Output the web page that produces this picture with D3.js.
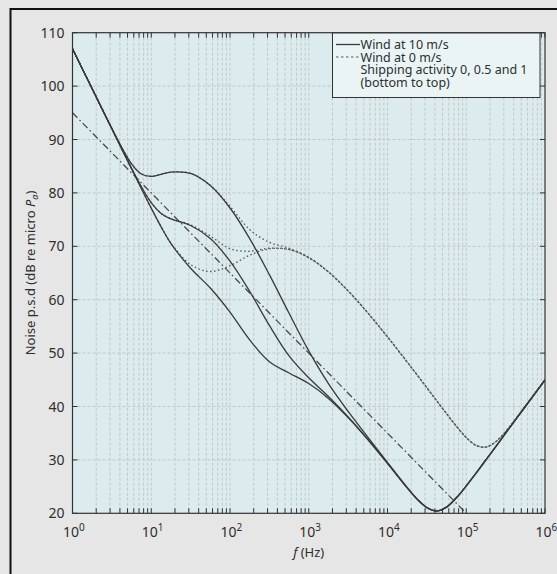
<!DOCTYPE html>
<html>
<head>
<meta charset="utf-8">
<script src="https://cdn.jsdelivr.net/npm/d3@7/dist/d3.min.js"></script>
<style>
  body { margin: 0; background: #e6e6e6; }
  text { font-family: "Noto Sans", sans-serif; fill: #2e2e2e; }
</style>
</head>
<body>
<script>
// log10 of frequency (Hz) for every sample
var logFreq = [0, 0.25, 0.5, 0.75, 0.875, 1, 1.125, 1.25, 1.5, 1.75, 2, 2.25, 2.5, 2.75, 3, 3.25,
  3.5, 3.75, 4, 4.25, 4.375, 4.5, 4.625, 4.75, 4.875, 5, 5.125, 5.25, 5.375, 5.5, 5.75, 6];

// solid curves (legend: wind at 10 m/s), shipping 0, 0.5, 1
var solidShip0 = [107.0, 99.5, 92.0, 84.51, 80.79, 77.13, 73.65, 70.52, 65.89, 62.19, 57.68, 52.47, 48.37, 46.27, 44.30, 41.52,
  37.94, 33.81, 29.34, 24.76, 22.65, 21.06, 20.43, 21.16, 22.90, 25.13, 27.54, 30.01, 32.50, 35.00, 40.00, 45.00];
var solidShip05 = [107.0, 99.5, 92.0, 84.61, 81.13, 78.16, 76.16, 75.13, 73.90, 71.45, 67.22, 61.55, 55.19, 49.48, 45.37, 41.86,
  38.06, 33.86, 29.36, 24.77, 22.66, 21.05, 20.44, 21.16, 22.90, 25.13, 27.54, 30.01, 32.50, 35.00, 40.00, 45.00];
var solidShip1 = [107.0, 99.5, 92.07, 85.45, 83.55, 83.10, 83.47, 83.90, 83.64, 81.37, 77.17, 71.45, 64.69, 57.45, 50.41, 44.28,
  39.08, 34.28, 29.53, 24.84, 22.70, 21.08, 20.44, 21.16, 22.90, 25.13, 27.54, 30.01, 32.50, 35.00, 40.00, 45.00];

// dotted curves (legend: wind at 0 m/s), shipping 0, 0.5, 1
var dotShip0 = [107.0, 99.5, 92.0, 84.51, 80.79, 77.14, 73.67, 70.62, 66.59, 65.28, 66.37, 68.33, 69.52, 69.39, 67.87, 65.19,
  61.65, 57.52, 53.04, 48.33, 45.93, 43.51, 41.07, 38.65, 36.31, 34.20, 32.72, 32.40, 33.41, 35.31, 40.03, 45.00];
var dotShip05 = [107.0, 99.5, 92.0, 84.61, 81.13, 78.16, 76.17, 75.16, 74.02, 71.94, 69.55, 69.07, 69.65, 69.41, 67.88, 65.19,
  61.65, 57.52, 53.04, 48.33, 45.93, 43.51, 41.07, 38.65, 36.31, 34.20, 32.72, 32.40, 33.41, 35.31, 40.03, 45.00];
var dotShip1 = [107.0, 99.5, 92.07, 85.45, 83.55, 83.10, 83.47, 83.91, 83.65, 81.42, 77.47, 73.14, 70.74, 69.65, 67.93, 65.21,
  61.66, 57.53, 53.04, 48.33, 45.93, 43.51, 41.07, 38.65, 36.31, 34.20, 32.72, 32.40, 33.41, 35.31, 40.03, 45.00];

// straight dash-dot line
var dashDotLogFreq = [0, 5];
var dashDotVals = [95, 20];

var yTicks = [20, 30, 40, 50, 60, 70, 80, 90, 100, 110];
var xDecades = [0, 1, 2, 3, 4, 5, 6];
var legendLines = ["Wind at 10 m/s", "Wind at 0 m/s", "Shipping activity 0, 0.5 and 1", "(bottom to top)"];

// ==============================================================================
var width = 557, height = 574;
var pLeft = 72.5, pRight = 545, pTop = 32.7, pBottom = 513.3;

var svg = d3.select("body").append("svg")
    .attr("width", width)
    .attr("height", height);

// outer frame
svg.append("rect")
    .attr("x", 10.5).attr("y", 9)
    .attr("width", 560).attr("height", 580)
    .attr("fill", "#e6e6e6")
    .attr("stroke", "#111")
    .attr("stroke-width", 2);

var x = d3.scaleLog().domain([1, 1e6]).range([pLeft, pRight]);
var y = d3.scaleLinear().domain([20, 110]).range([pBottom, pTop]);

svg.append("rect")
    .attr("x", pLeft).attr("y", pTop)
    .attr("width", pRight - pLeft).attr("height", pBottom - pTop)
    .attr("fill", "#dbebee");

svg.append("clipPath").attr("id", "clip")
  .append("rect")
    .attr("x", pLeft).attr("y", pTop)
    .attr("width", pRight - pLeft).attr("height", pBottom - pTop);

// minor + major frequencies
var xGrid = [];
xDecades.forEach(d => {
  if (d < 6) d3.range(1, 10).forEach(k => xGrid.push(k * Math.pow(10, d)));
  else xGrid.push(1e6);
});

var grid = svg.append("g")
    .attr("stroke", "#c6c6c6")
    .attr("stroke-width", 1)
    .attr("stroke-dasharray", "3,2");

grid.selectAll("line.gx")
    .data(xGrid.filter(f => f > 1 && f < 1e6))
  .enter().append("line")
    .attr("x1", d => x(d)).attr("x2", d => x(d))
    .attr("y1", pTop).attr("y2", pBottom);

grid.selectAll("line.gy")
    .data(yTicks.filter(v => v > 20 && v < 110))
  .enter().append("line")
    .attr("x1", pLeft).attr("x2", pRight)
    .attr("y1", d => y(d)).attr("y2", d => y(d));

// curves
var plot = svg.append("g").attr("clip-path", "url(#clip)");

function toPoints(lf, vals) {
  return vals.map((v, i) => [Math.pow(10, lf[i]), v]);
}

var line = d3.line()
    .curve(d3.curveCatmullRom.alpha(0.5))
    .x(d => x(d[0]))
    .y(d => y(d[1]));

plot.append("path")
    .attr("d", line(toPoints(dashDotLogFreq, dashDotVals)))
    .attr("fill", "none")
    .attr("stroke", "#4a4a4a")
    .attr("stroke-width", 1.3)
    .attr("stroke-dasharray", "7,3,1.5,3");

[dotShip0, dotShip05, dotShip1].forEach(vals => {
  plot.append("path")
      .attr("d", line(toPoints(logFreq, vals)))
      .attr("fill", "none")
      .attr("stroke", "#555")
      .attr("stroke-width", 1.3)
      .attr("stroke-dasharray", "1.5,2.5");
});

[solidShip0, solidShip05, solidShip1].forEach(vals => {
  plot.append("path")
      .attr("d", line(toPoints(logFreq, vals)))
      .attr("fill", "none")
      .attr("stroke", "#3a3a3a")
      .attr("stroke-width", 1.3);
});

// ticks (inward, all four sides)
var ticks = svg.append("g").attr("stroke", "#333").attr("stroke-width", 1);

ticks.selectAll("line.tb")
    .data(xGrid)
  .enter().append("line")
    .attr("x1", d => x(d)).attr("x2", d => x(d))
    .attr("y1", pBottom).attr("y2", pBottom - 5);

ticks.selectAll("line.tt")
    .data(xGrid)
  .enter().append("line")
    .attr("x1", d => x(d)).attr("x2", d => x(d))
    .attr("y1", pTop).attr("y2", pTop + 5);

ticks.selectAll("line.tl")
    .data(yTicks)
  .enter().append("line")
    .attr("x1", pLeft).attr("x2", pLeft + 5)
    .attr("y1", d => y(d)).attr("y2", d => y(d));

ticks.selectAll("line.tr")
    .data(yTicks)
  .enter().append("line")
    .attr("x1", pRight).attr("x2", pRight - 5)
    .attr("y1", d => y(d)).attr("y2", d => y(d));

svg.append("rect")
    .attr("x", pLeft).attr("y", pTop)
    .attr("width", pRight - pLeft).attr("height", pBottom - pTop)
    .attr("fill", "none")
    .attr("stroke", "#333")
    .attr("stroke-width", 1.2);

// tick labels
svg.selectAll("text.ylab")
    .data(yTicks)
  .enter().append("text")
    .attr("x", pLeft - 8)
    .attr("y", d => y(d) + 5)
    .attr("text-anchor", "end")
    .style("font-size", "14px")
    .text(d => d);

var xl = svg.selectAll("text.xlab")
    .data(xDecades)
  .enter().append("text")
    .attr("x", d => x(Math.pow(10, d)) - 9.5)
    .attr("y", 537)
    .style("font-size", "14px");
xl.append("tspan").text("10");
xl.append("tspan")
    .attr("dy", -6)
    .style("font-size", "10px")
    .text(d => d);

// axis titles
var xt = svg.append("text")
    .attr("x", (pLeft + pRight) / 2)
    .attr("y", 557)
    .attr("text-anchor", "middle")
    .style("font-size", "13px");
xt.append("tspan").style("font-style", "italic").text("f");
xt.append("tspan").text(" (Hz)");

var yt = svg.append("text")
    .attr("transform", "translate(35," + ((pTop + pBottom) / 2) + ") rotate(-90)")
    .attr("text-anchor", "middle")
    .style("font-size", "13px");
yt.append("tspan").text("Noise p.s.d (dB re micro ");
yt.append("tspan").style("font-style", "italic").text("P");
yt.append("tspan").attr("dy", 3).style("font-size", "9px").style("font-style", "italic").text("a");
yt.append("tspan").attr("dy", -3).text(")");

// legend
var lg = svg.append("g");
lg.append("rect")
    .attr("x", 332.5).attr("y", 33)
    .attr("width", 207.5).attr("height", 64.5)
    .attr("fill", "#ebf4f5")
    .attr("stroke", "#333")
    .attr("stroke-width", 1);

lg.append("line")
    .attr("x1", 336).attr("x2", 360)
    .attr("y1", 44.5).attr("y2", 44.5)
    .attr("stroke", "#3a3a3a").attr("stroke-width", 1.3);
lg.append("line")
    .attr("x1", 336).attr("x2", 360)
    .attr("y1", 57).attr("y2", 57)
    .attr("stroke", "#555").attr("stroke-width", 1.2)
    .attr("stroke-dasharray", "2.5,2.5");

lg.selectAll("text")
    .data(legendLines)
  .enter().append("text")
    .attr("x", 360.5)
    .attr("y", (d, i) => 49 + i * 12.7)
    .style("font-size", "12.5px")
    .text(d => d);
</script>
</body>
</html>
